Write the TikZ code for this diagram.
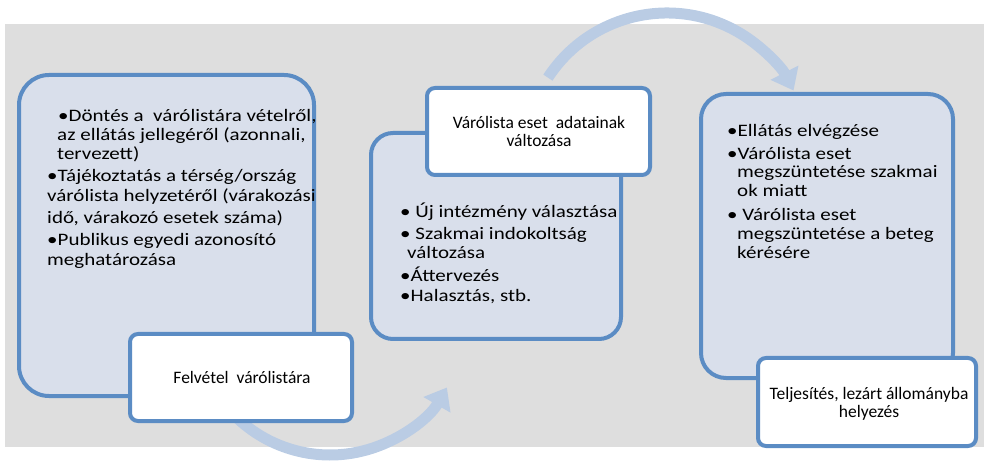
\documentclass[tikz,border=0pt]{standalone}
\usepackage{fontspec}
\setmainfont{Carlito}
\newfontfamily\widebody[FakeStretch=1.2]{Carlito}
\usetikzlibrary{arrows.meta}

\definecolor{panelgray}{HTML}{DEDEDE}
\definecolor{boxfill}{HTML}{D9DFEB}
\definecolor{boxline}{HTML}{5B8CC4}
\definecolor{flowblue}{HTML}{BACCE4}

\tikzset{
  bigbox/.style={draw=boxline, fill=boxfill, line width=4pt},
  labelbox/.style={draw=boxline, fill=white, line width=4pt, rounded corners=8pt},
  flow/.style={draw=flowblue, line width=11pt,
    -{Triangle[width=30pt,length=20pt]}},
  txt/.style={inner sep=0pt, anchor=base west, font=\widebody\fontsize{17.5}{19}\selectfont},
  ctxt/.style={inner sep=0pt, anchor=base, font=\fontsize{17.5}{19}\selectfont},
}

\begin{document}
\begin{tikzpicture}[x=1pt, y=1pt]
  \useasboundingbox (0,0) rectangle (984,463);

  % grey panel
  \fill[panelgray] (5,16) rectangle (984,439);

  % curved flow arrows between the stages
  \coordinate (lowc) at (330,143);
  \coordinate (highc) at (667,308);
  \draw[flow] ([shift={(225:135)}]lowc) arc[start angle=225, end angle=330, radius=135];
  \draw[flow] ([shift={(147:142)}]highc) arc[start angle=147, end angle=27, radius=142];

  % stage 1
  \draw[bigbox, rounded corners=30pt] (19,67) rectangle (314,388);
  \node[txt] (a1) at (58,341) {•Döntés a~~várólistára vételről,};
  \node[txt] (a2) at (57,322) {az ellátás jellegéről (azonnali,};
  \node[txt] (a3) at (57,303) {tervezett)};
  \node[txt] (a4) at (47,281) {•Tájékoztatás a térség/ország};
  \node[txt] (a5) at (47,261) {várólista helyzetéről (várakozási};
  \node[txt] (a6) at (47,239) {idő, várakozó esetek száma)};
  \node[txt] (a7) at (47,217) {•Publikus egyedi azonosító};
  \node[txt] (a8) at (47,197) {meghatározása};
  \draw[labelbox] (130,42) rectangle (352,129);
  \node[ctxt] (ah) at (242,80) {Felvétel~~várólistára};

  % stage 2
  \draw[bigbox, rounded corners=22pt] (371,124) rectangle (621,330);
  \draw[labelbox] (427,288) rectangle (650,375);
  \node[ctxt] (bh1) at (539,334) {Várólista eset~~adatainak};
  \node[ctxt] (bh2) at (539,316) {változása};
  \node[txt] (b1) at (400,245) {•~Új intézmény választása};
  \node[txt] (b2) at (400,223) {•~Szakmai indokoltság};
  \node[txt] (b3) at (407,204) {változása};
  \node[txt] (b4) at (400,181) {•Áttervezés};
  \node[txt] (b5) at (400,161) {•Halasztás, stb.};

  % stage 3
  \draw[bigbox, rounded corners=25pt] (701,85) rectangle (953,369);
  \node[txt] (c1) at (727,326) {•Ellátás elvégzése};
  \node[txt] (c2) at (727,303) {•Várólista eset};
  \node[txt] (c3) at (737,285) {megszüntetése szakmai};
  \node[txt] (c4) at (737,266) {ok miatt};
  \node[txt] (c5) at (727,242) {•~Várólista eset};
  \node[txt] (c6) at (737,223) {megszüntetése a beteg};
  \node[txt] (c7) at (737,204) {kérésére};
  \draw[labelbox] (758,17) rectangle (976,105);
  \node[ctxt] (ch1) at (869,64) {Teljesítés, lezárt állományba};
  \node[ctxt] (ch2) at (869,46) {helyezés};
\end{tikzpicture}
\end{document}
